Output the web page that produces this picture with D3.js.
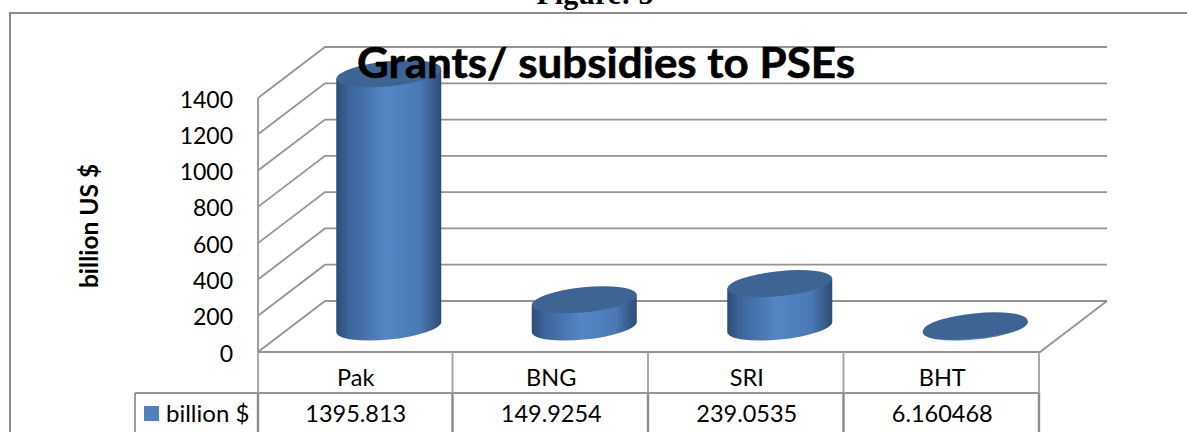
<!DOCTYPE html>
<html>
<head>
<meta charset="utf-8">
<script src="https://cdnjs.cloudflare.com/ajax/libs/d3/7.8.5/d3.min.js"></script>
<style>
  html, body { margin: 0; padding: 0; background: #fff; overflow: hidden; }
  text { font-family: Lato, "Open Sans", sans-serif; fill: #000; }
</style>
</head>
<body>
<div id="chart"></div>
<script>
// Chart data
const categories = ["Pak", "BNG", "SRI", "BHT"];
const values = [1395.813, 149.9254, 239.0535, 6.160468];
const valueLabels = ["1395.813", "149.9254", "239.0535", "6.160468"];
const yTicks = [0, 200, 400, 600, 800, 1000, 1200, 1400];
const seriesName = "billion $";

const width = 1187, height = 432;
const gridColor = "#949494";
const frameColor = "#8c8c8c";

const svg = d3.select("#chart").append("svg")
    .attr("width", width)
    .attr("height", height)
    .style("display", "block");

// Scales, front plane of the 3D box
const x = d3.scaleBand().domain(categories).range([258, 1040]);
const y = d3.scaleLinear().domain([0, 1400]).range([352, 98]);

// Depth of the box
const depthX = 67, depthY = -51;

// Bar gradient
const defs = svg.append("defs");
const grad = defs.append("linearGradient").attr("id", "barSide");
grad.append("stop").attr("offset", "0%").attr("stop-color", "#2c4c74");
grad.append("stop").attr("offset", "12%").attr("stop-color", "#3c659a");
grad.append("stop").attr("offset", "48%").attr("stop-color", "#5486c6");
grad.append("stop").attr("offset", "80%").attr("stop-color", "#4a79b4");
grad.append("stop").attr("offset", "100%").attr("stop-color", "#2c4c74");

// Outer frame (no right side in view) and the caption cut off at the top
svg.append("path")
    .attr("d", d3.line()([[10, height], [10, 13], [width, 13]]))
    .attr("fill", "none")
    .attr("stroke", frameColor)
    .attr("stroke-width", 2);

svg.append("text")
    .attr("x", 595).attr("y", 4)
    .attr("text-anchor", "middle")
    .style("font-family", '"Liberation Serif", serif')
    .style("font-weight", "bold")
    .style("font-size", "30px")
    .text("Figure: 5");

// Walls and gridlines
const grid = svg.append("g")
    .attr("fill", "none")
    .attr("stroke", gridColor)
    .attr("stroke-width", 1.8);

yTicks.forEach(t => {
    grid.append("path")
        .attr("d", d3.line()([
            [258, y(t)],
            [258 + depthX, y(t) + depthY],
            [1040 + depthX, y(t) + depthY]
        ]));
});
grid.append("line")
    .attr("x1", 258).attr("x2", 258)
    .attr("y1", y(1400)).attr("y2", y(0));
// floor edges
grid.append("path")
    .attr("d", d3.line()([
        [258, y(0)],
        [1040, y(0)],
        [1040 + depthX, y(0) + depthY]
    ]));

// Cylinders
const rx = 52.7, ry = 12.5, tilt = -5.75;
const edgeX = 52.5, edgeY = 5;
const baseY = y(0) - 25;
const scaleY = y(0) - y(1);

const bars = svg.append("g");
categories.forEach((c, i) => {
    const cx = x(c) + x.bandwidth() / 2 + 33;
    const h = values[i] * scaleY;
    const top = baseY - h;
    bars.append("path")
        .attr("fill", "url(#barSide)")
        .attr("d", `M${cx - edgeX},${top + edgeY}
            L${cx - edgeX},${baseY + edgeY}
            A${rx},${ry} ${tilt} 0 0 ${cx + edgeX},${baseY - edgeY}
            L${cx + edgeX},${top - edgeY} Z`);
    bars.append("ellipse")
        .attr("rx", rx).attr("ry", ry)
        .attr("transform", `translate(${cx},${top}) rotate(${tilt})`)
        .attr("fill", "#3e6493");
});

// Y axis labels
const tickLabels = svg.append("g")
    .attr("font-size", "23px")
    .attr("text-anchor", "end");
yTicks.forEach(t => {
    tickLabels.append("text")
        .attr("x", 233)
        .attr("y", y(t) + 9.5)
        .text(t);
});

svg.append("text")
    .attr("transform", "translate(98,226) rotate(-90)")
    .attr("text-anchor", "middle")
    .style("font-weight", "bold")
    .style("font-size", "24.5px")
    .text("billion US $");

// Data table
const rowY = 393;
const table = svg.append("g")
    .attr("fill", "none")
    .attr("stroke", gridColor)
    .attr("stroke-width", 1.8);
table.append("line").attr("x1", 135).attr("x2", 1039).attr("y1", rowY).attr("y2", rowY);
table.append("line").attr("x1", 135).attr("x2", 135).attr("y1", rowY).attr("y2", height);
// lower row has heavier verticals
const splitLine = (xv) => {
    table.append("line").attr("x1", xv).attr("x2", xv).attr("y1", y(0)).attr("y2", rowY)
        .attr("stroke", "#a0a0a0");
    table.append("line").attr("x1", xv).attr("x2", xv).attr("y1", rowY).attr("y2", height)
        .attr("stroke", frameColor).attr("stroke-width", 2.4);
};
splitLine(258);
categories.forEach(c => splitLine(x(c) + x.bandwidth() - 1));

categories.forEach((c, i) => {
    const mid = x(c) + x.bandwidth() / 2;
    svg.append("text")
        .attr("x", mid).attr("y", 386)
        .attr("text-anchor", "middle")
        .style("font-size", "23.5px")
        .text(c);
    svg.append("text")
        .attr("x", mid).attr("y", 422)
        .attr("text-anchor", "middle")
        .style("font-size", "23.5px")
        .text(valueLabels[i]);
});

// Legend key inside the table
svg.append("rect")
    .attr("x", 144).attr("y", 406)
    .attr("width", 15).attr("height", 15)
    .attr("fill", "#4f81bd");
svg.append("text")
    .attr("x", 166).attr("y", 422)
    .style("font-size", "24px")
    .text(seriesName);

// Title sits on top of everything
svg.append("text")
    .attr("x", 606).attr("y", 78)
    .attr("text-anchor", "middle")
    .attr("textLength", 498)
    .attr("lengthAdjust", "spacingAndGlyphs")
    .style("font-weight", "bold")
    .style("font-size", "42px")
    .style("stroke", "#000")
    .style("stroke-width", 0.6)
    .text("Grants/ subsidies to PSEs");
</script>
</body>
</html>
